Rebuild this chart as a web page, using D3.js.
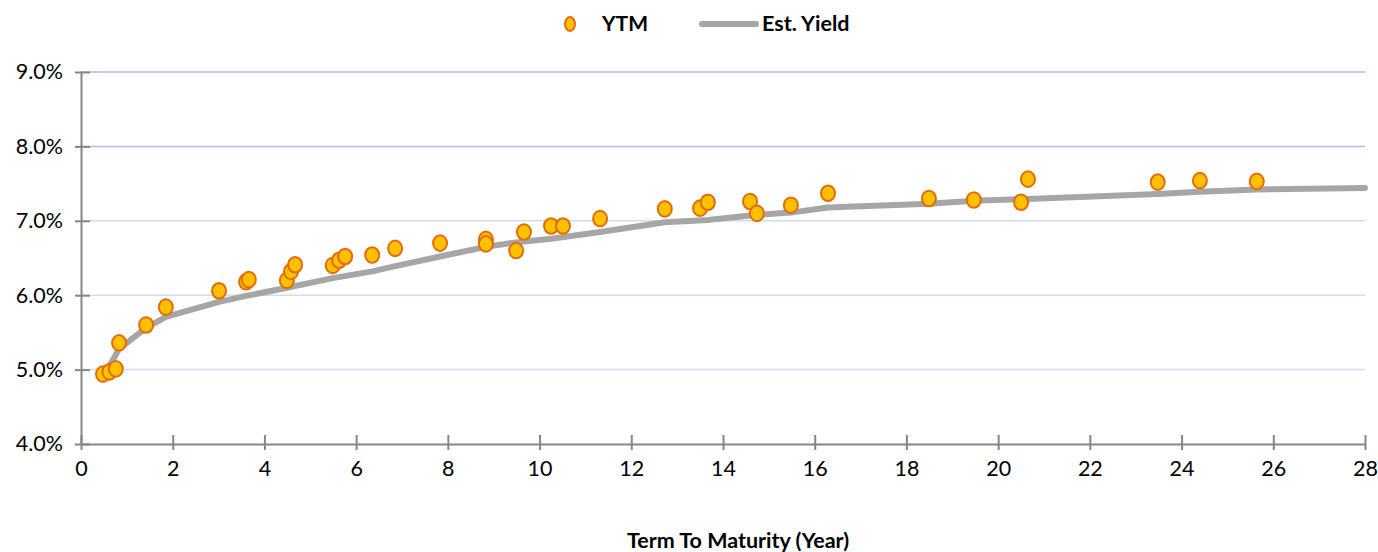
<!DOCTYPE html>
<html><head><meta charset="utf-8">
<script src="https://cdn.jsdelivr.net/npm/d3@7"></script>
<style>body{margin:0;background:#fff}svg{display:block;font-family:Lato,"Liberation Sans",sans-serif}</style>
</head><body><svg id="c" width="1378" height="552"></svg>
<script>
const ytmTerm = [0.48,0.62,0.76,0.83,1.42,1.85,3.01,3.60,3.66,4.49,4.58,4.67,5.49,5.63,5.76,6.35,6.85,7.83,8.83,8.83,9.49,9.66,10.25,10.51,11.32,12.73,13.50,13.67,14.59,14.74,15.48,16.29,18.49,19.47,20.50,20.65,23.48,24.40,25.64];
const ytmVal  = [4.94,4.97,5.01,5.36,5.60,5.84,6.06,6.18,6.21,6.20,6.32,6.41,6.40,6.47,6.52,6.54,6.63,6.70,6.75,6.69,6.60,6.85,6.93,6.93,7.03,7.16,7.17,7.25,7.26,7.10,7.21,7.37,7.30,7.28,7.25,7.56,7.52,7.54,7.53];
const estTerm = [0.48,0.62,0.76,0.83,1.42,1.85,3.01,3.60,4.49,5.49,6.35,6.85,7.83,8.83,9.49,10.25,11.32,12.73,13.67,14.74,15.48,16.29,18.49,19.47,20.50,23.48,24.40,25.64,28.0];
const estVal  = [4.90,5.05,5.20,5.28,5.56,5.71,5.91,5.99,6.10,6.23,6.32,6.39,6.52,6.65,6.71,6.76,6.85,6.98,7.01,7.08,7.11,7.18,7.23,7.27,7.29,7.36,7.39,7.42,7.44];
const xTicks = [0,2,4,6,8,10,12,14,16,18,20,22,24,26,28];
const yTicks = [4,5,6,7,8,9];

const svg = d3.select("#c");
const x = d3.scaleLinear().domain([0,28]).range([81,1365]);
const y = d3.scaleLinear().domain([4,9]).range([444,72]);

// gridlines
svg.append("g").selectAll("line").data(yTicks.filter(d=>d>4)).join("line")
  .attr("x1",x(0)).attr("x2",x(28)).attr("y1",d=>y(d)).attr("y2",d=>y(d))
  .attr("stroke",d=>d>=8?"#aebde0":"#d3dcee").attr("stroke-width",1.5);

// y axis
const ya = svg.append("g").attr("transform",`translate(${x(0)},0)`)
  .call(d3.axisLeft(y).tickValues(yTicks).tickFormat(d=>d.toFixed(1)+"%").tickSize(0).tickPadding(18));
ya.select(".domain").attr("stroke","#868686").attr("stroke-width",2);
ya.selectAll(".tick line").attr("x1",-6).attr("x2",9).attr("stroke","#868686").attr("stroke-width",2);
ya.selectAll("text").attr("font-size",21.5).attr("fill","#000").attr("font-family","Lato");

// x axis
const xa = svg.append("g").attr("transform",`translate(0,${y(4)})`)
  .call(d3.axisBottom(x).tickValues(xTicks).tickSize(0).tickPadding(17));
xa.select(".domain").attr("stroke","#868686").attr("stroke-width",2);
xa.selectAll(".tick line").attr("y1",-9).attr("y2",6).attr("stroke","#868686").attr("stroke-width",2);
xa.selectAll("text").attr("font-size",21.5).attr("fill","#000").attr("font-family","Lato");

// line
const line = d3.line().x((d,i)=>x(estTerm[i])).y(d=>y(d));
svg.append("path").datum(estVal).attr("d",line).attr("fill","none")
  .attr("stroke","#a6a6a6").attr("stroke-width",6).attr("stroke-linejoin","round").attr("stroke-linecap","round");

// points
svg.append("g").selectAll("ellipse").data(ytmVal).join("ellipse")
  .attr("cx",(d,i)=>x(ytmTerm[i])).attr("cy",d=>y(d)).attr("rx",7).attr("ry",7.8)
  .attr("fill","#ffc000").attr("stroke","#e36c0a").attr("stroke-width",2);

// legend
const lg = svg.append("g");
lg.append("ellipse").attr("cx",570).attr("cy",24).attr("rx",5).attr("ry",7)
  .attr("fill","#ffc000").attr("stroke","#e36c0a").attr("stroke-width",2);
lg.append("text").attr("x",602).attr("y",31).text("YTM").attr("font-weight","bold").attr("font-size",21);
lg.append("line").attr("x1",702).attr("x2",756).attr("y1",24).attr("y2",24)
  .attr("stroke","#a6a6a6").attr("stroke-width",6).attr("stroke-linecap","round");
lg.append("text").attr("x",762).attr("y",31).text("Est. Yield").attr("font-weight","bold").attr("font-size",21.5);

// axis title
svg.append("text").attr("x",738).attr("y",548).attr("text-anchor","middle")
  .attr("font-weight","bold").attr("font-size",21.5).text("Term To Maturity (Year)");
</script></body></html>
